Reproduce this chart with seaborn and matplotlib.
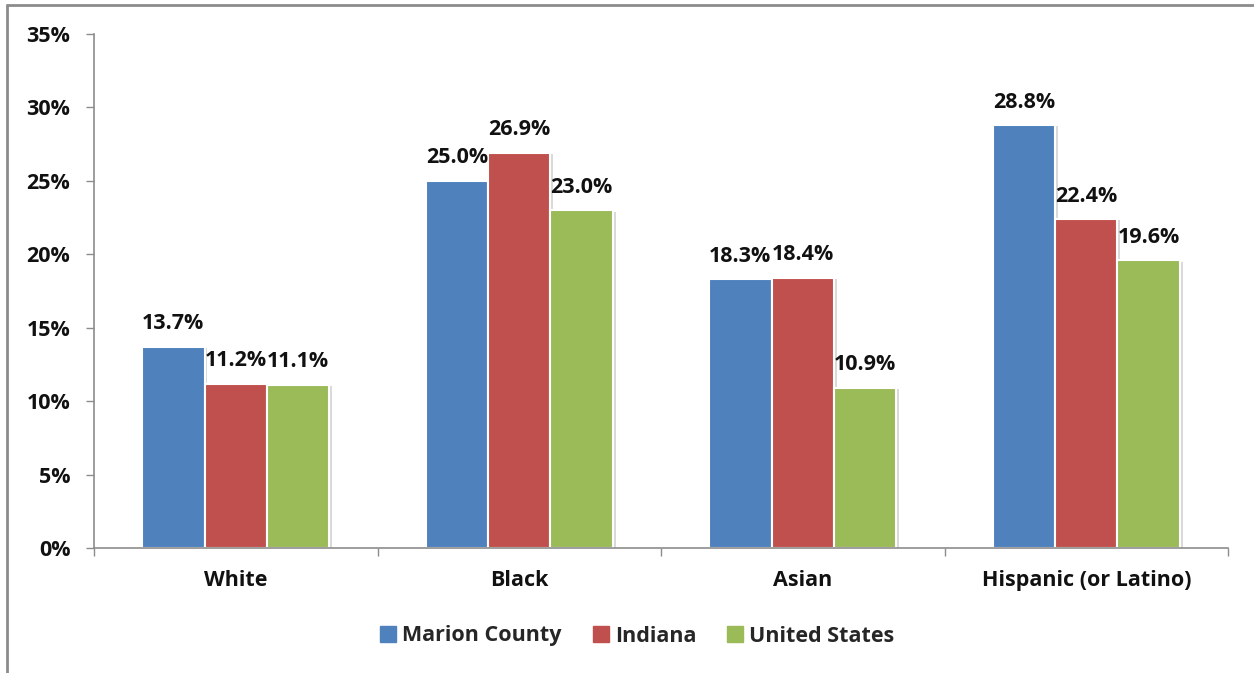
import matplotlib
matplotlib.use("Agg")
import matplotlib.pyplot as plt
import matplotlib.patheffects as pe
from matplotlib.lines import Line2D
import seaborn as sns
import pandas as pd
import numpy as np

categories = ["White", "Black", "Asian", "Hispanic (or Latino)"]
series_names = ["Marion County", "Indiana", "United States"]
marion_county = [13.7, 25.0, 18.3, 28.8]
indiana = [11.2, 26.9, 18.4, 22.4]
united_states = [11.1, 23.0, 10.9, 19.6]
y_ticks = [0, 5, 10, 15, 20, 25, 30, 35]
colors = ["#4F81BD", "#C0504D", "#9BBB59"]

rows = []
for name, vals in zip(series_names, [marion_county, indiana, united_states]):
    for cat, v in zip(categories, vals):
        rows.append({"Group": cat, "Area": name, "Pct": v})
df = pd.DataFrame(rows)

sns.set_theme(style="white")
plt.rcParams["font.family"] = ["Open Sans", "DejaVu Sans"]
plt.rcParams["font.weight"] = "bold"

FS = 15.5

fig = plt.figure(figsize=(12.54, 6.73), dpi=100)
ax = fig.add_axes([94 / 1254, 1 - 548 / 673, (1228 - 94) / 1254, (548 - 34) / 673])

sns.barplot(data=df, x="Group", y="Pct", hue="Area", order=categories,
            hue_order=series_names, palette=colors, width=0.66, ax=ax,
            edgecolor="white", linewidth=1.5, saturation=1, legend=True)

for patch in ax.patches:
    patch.set_path_effects([pe.SimplePatchShadow(offset=(2, -1), alpha=0.15, shadow_rgbFace="black"),
                            pe.Normal()])

for container in ax.containers:
    ax.bar_label(container, labels=[f"{v:.1f}%" for v in container.datavalues],
                 padding=9, fontsize=FS, fontweight="bold", color="#111111")

ax.set_ylim(0, 35)
ax.set_xlim(-0.5, len(categories) - 0.5)
ax.set_yticks(y_ticks)
ax.set_yticklabels([f"{t}%" for t in y_ticks], fontsize=FS, fontweight="bold")
ax.set_xticks(range(len(categories)))
ax.set_xticklabels(categories, fontsize=FS, fontweight="bold")
ax.set_xticks(np.arange(-0.5, len(categories)), minor=True)
ax.set_xlabel("")
ax.set_ylabel("")

for side in ["top", "right"]:
    ax.spines[side].set_visible(False)
for side in ["left", "bottom"]:
    ax.spines[side].set_color("#8c8c8c")
    ax.spines[side].set_linewidth(1.2)

ax.tick_params(axis="y", which="major", left=True, length=6, width=1, color="#8c8c8c",
               pad=11, labelcolor="#111111")
ax.tick_params(axis="x", which="major", bottom=False, length=0, pad=16, labelcolor="#111111")
ax.tick_params(axis="x", which="minor", bottom=True, length=6, width=1, color="#8c8c8c")
ax.grid(False)

ax.legend_.remove()
square_handles = [Line2D([0], [0], marker="s", linestyle="", markersize=11,
                         markerfacecolor=c, markeredgecolor=c) for c in colors]
fig.legend(square_handles, series_names, loc="center", bbox_to_anchor=(637 / 1254, 1 - 636 / 673),
           ncol=3, frameon=False, handlelength=0.8, handletextpad=0.25, columnspacing=1.4,
           prop={"weight": "bold", "size": FS})

fig.add_artist(Line2D([7 / 1254, 7 / 1254], [0, 1 - 5 / 673], transform=fig.transFigure,
                      color="#8c8c8c", linewidth=2))
fig.add_artist(Line2D([7 / 1254, 1], [1 - 5 / 673, 1 - 5 / 673], transform=fig.transFigure,
                      color="#8c8c8c", linewidth=2))

fig.savefig("out.png", dpi=100, facecolor="white")
